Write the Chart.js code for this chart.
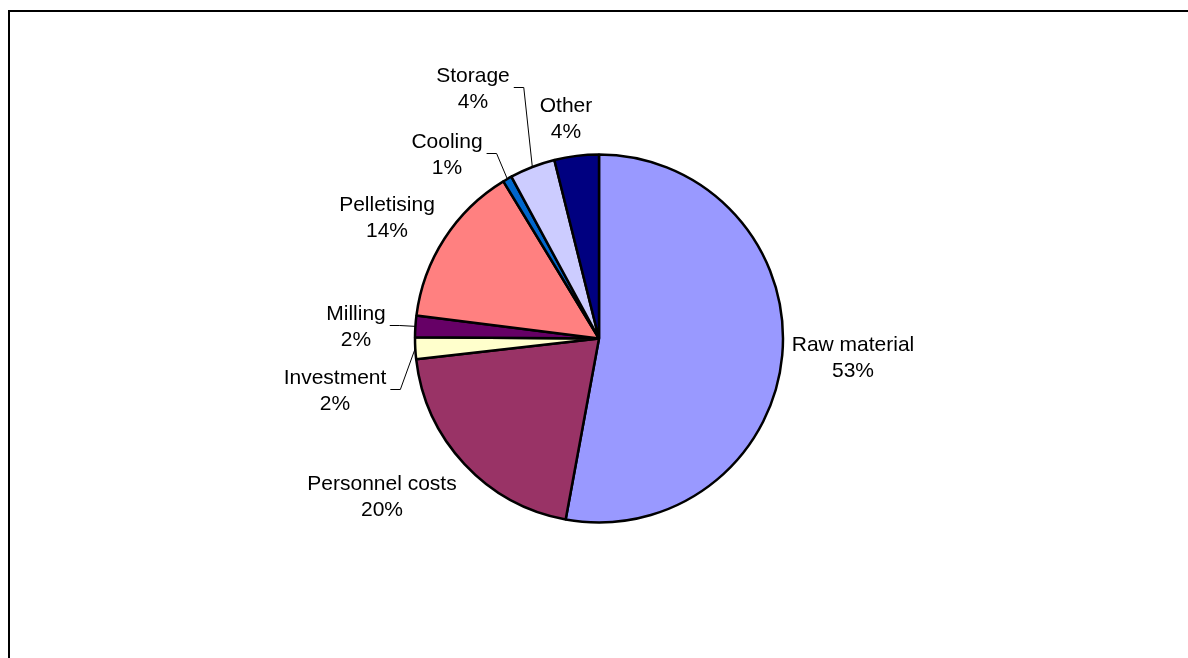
<!DOCTYPE html>
<html>
<head>
<meta charset="utf-8">
<script src="https://cdn.jsdelivr.net/npm/chart.js@4/dist/chart.umd.min.js"></script>
<style>
  html, body { margin: 0; padding: 0; background: #ffffff; }
  #wrap { position: relative; width: 1188px; height: 658px; }
</style>
</head>
<body>
<div id="wrap"><canvas id="c" width="1188" height="658"></canvas></div>
<script>
// Cost breakdown of pellet production (share of total, %)
const categories = ['Raw material', 'Personnel costs', 'Investment', 'Milling', 'Pelletising', 'Cooling', 'Storage', 'Other'];
const costShares = [52.9, 20.3, 1.9, 1.9, 14.3, 0.8, 4.0, 3.9];
const sliceColors = ['#9999FF', '#993366', '#FFFFCC', '#660066', '#FF8080', '#0066CC', '#CCCCFF', '#000080'];

// Label box centres, relative to the pie centre (px)
const labelOffsets = [[254, 18], [-217, 157], [-264, 51], [-243, -13], [-212, -122], [-152, -185], [-126, -251], [-33, -221]];
// Labels pulled away from their slice get a leader line
const hasLeader = [false, false, true, true, false, true, true, false];

const FONT_SIZE = 21;
const LINE_H = 26.5;
const FONT = FONT_SIZE + 'px "Liberation Sans", Arial, sans-serif';

const framePlugin = {
  id: 'frame',
  beforeDraw(chart) {
    const ctx = chart.ctx;
    ctx.save();
    ctx.fillStyle = '#ffffff';
    ctx.fillRect(0, 0, chart.width, chart.height);
    ctx.fillStyle = '#000000';
    ctx.fillRect(8, 10, 2, chart.height - 10);
    ctx.fillRect(8, 10, chart.width - 8, 2);
    ctx.restore();
  }
};

const sliceLabels = {
  id: 'sliceLabels',
  afterDatasetsDraw(chart) {
    const ctx = chart.ctx;
    const meta = chart.getDatasetMeta(0);
    const data = chart.data.datasets[0].data;
    const total = data.reduce((a, b) => a + b, 0);
    ctx.save();
    ctx.font = FONT;
    ctx.fillStyle = '#000000';
    ctx.textAlign = 'center';
    ctx.textBaseline = 'alphabetic';
    const capShift = FONT_SIZE * 0.716 / 2;
    meta.data.forEach((arc, i) => {
      const p = arc.getProps(['x', 'y', 'startAngle', 'endAngle', 'outerRadius'], true);
      const mid = (p.startAngle + p.endAngle) / 2;
      const edgeX = p.x + Math.cos(mid) * p.outerRadius;
      const edgeY = p.y + Math.sin(mid) * p.outerRadius;
      const cx = p.x + labelOffsets[i][0];
      const cy = p.y + labelOffsets[i][1];
      const lines = [chart.data.labels[i], Math.round(data[i] / total * 100) + '%'];
      const halfW = Math.max(...lines.map(t => ctx.measureText(t).width)) / 2 + 4;
      ctx.fillText(lines[0], cx, cy - LINE_H / 2 + capShift);
      ctx.fillText(lines[1], cx, cy + LINE_H / 2 + capShift);
      if (hasLeader[i]) {
        const dir = edgeX > cx ? 1 : -1;
        const sx = cx + dir * halfW;
        ctx.beginPath();
        ctx.moveTo(sx, cy);
        ctx.lineTo(sx + dir * 10, cy);
        ctx.lineTo(edgeX, edgeY);
        ctx.strokeStyle = '#000000';
        ctx.lineWidth = 1;
        ctx.stroke();
      }
    });
    ctx.restore();
  }
};

new Chart(document.getElementById('c'), {
  type: 'pie',
  data: {
    labels: categories,
    datasets: [{
      data: costShares,
      backgroundColor: sliceColors,
      borderColor: '#000000',
      borderWidth: 2.5
    }]
  },
  options: {
    responsive: false,
    animation: false,
    layout: { padding: { left: 413.75, right: 403.75, top: 153.25, bottom: 134.25 } },
    plugins: {
      legend: { display: false },
      tooltip: { enabled: false }
    }
  },
  plugins: [framePlugin, sliceLabels]
});
</script>
</body>
</html>
